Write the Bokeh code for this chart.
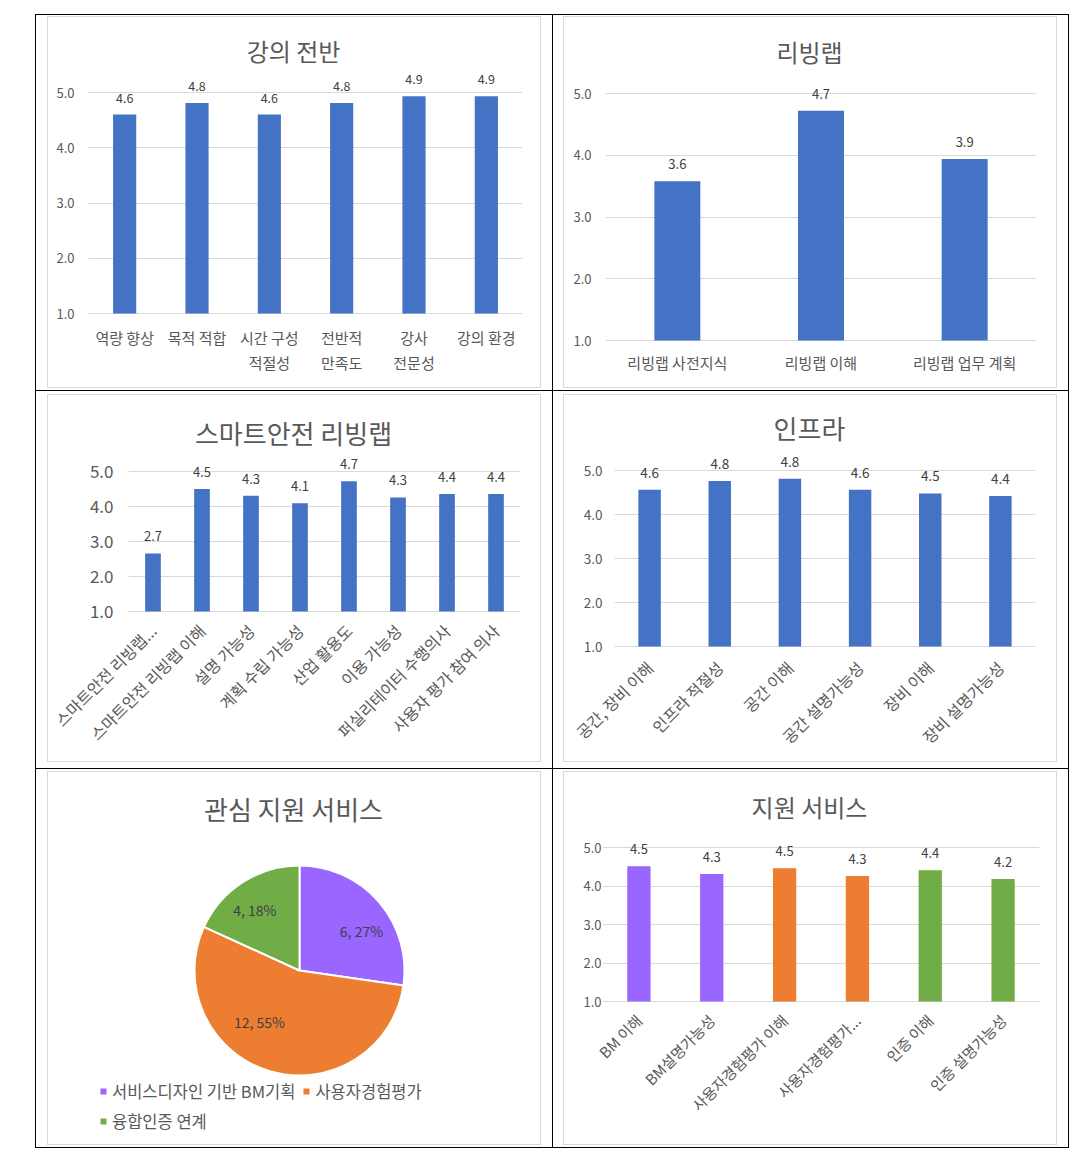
import math
from bokeh.plotting import figure
from bokeh.models import (ColumnDataSource, Range1d, FactorRange, FixedTicker,
                          PrintfTickFormatter, Label, Legend, LegendItem, Column, Row)
from bokeh.embed import file_html
from bokeh.resources import INLINE
from bokeh.core.properties import value

FONT = "Noto Sans CJK KR"
BLUE = "#4472C4"
PURPLE = "#9966FF"
ORANGE = "#ED7D31"
GREEN = "#70AD47"
AXIS_TXT = "#595959"
LABEL_TXT = "#404040"
GRID = "#d9d9d9"

# ---------------- data ----------------
lecture_title = "강의 전반"
lecture_cats = ["역량 향상", "목적 적합", "시간 구성\n적절성", "전반적\n만족도", "강사\n전문성", "강의 환경"]
lecture_vals = [4.6, 4.81, 4.6, 4.81, 4.93, 4.93]

livinglab_title = "리빙랩"
livinglab_cats = ["리빙랩 사전지식", "리빙랩 이해", "리빙랩 업무 계획"]
livinglab_vals = [3.58, 4.72, 3.94]

smart_title = "스마트안전 리빙랩"
smart_cats = ["스마트안전 리빙랩...", "스마트안전 리빙랩 이해", "설명 가능성", "계획 수립 가능성",
              "산업 활용도", "이용 가능성", "퍼실리테이터 수행의사", "사용자 평가 참여 의사"]
smart_vals = [2.66, 4.5, 4.31, 4.09, 4.72, 4.26, 4.36, 4.36]

infra_title = "인프라"
infra_cats = ["공간, 장비 이해", "인프라 적절성", "공간 이해", "공간 설명가능성", "장비 이해", "장비 설명가능성"]
infra_vals = [4.56, 4.76, 4.81, 4.56, 4.48, 4.42]

interest_title = "관심 지원 서비스"
interest_cats = ["서비스디자인 기반 BM기획", "사용자경험평가", "융합인증 연계"]
interest_counts = [6, 12, 4]
interest_colors = [PURPLE, ORANGE, GREEN]

support_title = "지원 서비스"
support_cats = ["BM 이해", "BM설명가능성", "사용자경험평가 이해", "사용자경험평가...", "인증 이해", "인증 설명가능성"]
support_vals = [4.51, 4.31, 4.46, 4.26, 4.41, 4.18]
support_group = [0, 0, 1, 1, 2, 2]

scale_ticks = [1, 2, 3, 4, 5]

# style: pixel nudges of the pie data labels (Excel "best fit" placement)
pie_label_nudge = [(8, -7), (-20, 17), (-6, 0)]

W = 492


def add_title(p, text, y, size):
    p.add_layout(Label(x=245, y=y, x_units="canvas", y_units="canvas", text=text,
                       text_align="center", text_baseline="middle",
                       text_font=FONT, text_font_size=f"{size}px", text_color=AXIS_TXT))


def bar_chart(title, cats, vals, colors, H, left, right, g5, g1, title_y, title_size,
              ytick_size, xtick_size, dlabel_size, orient, xstandoff, ystandoff):
    unit = (g1 - g5) / 4.0
    ymax = 5 + g5 / unit
    ymin = 1 - 1.0 / unit
    p = figure(width=W, height=H, x_range=FactorRange(factors=cats), y_range=Range1d(ymin, ymax),
               output_backend="svg", toolbar_location=None,
               min_border_left=left, min_border_right=right, min_border_top=0,
               min_border_bottom=H - g1 - 1)
    p.outline_line_color = None
    p.background_fill_color = "white"
    p.border_fill_color = "white"
    src = ColumnDataSource(dict(cat=cats, val=vals, color=colors,
                                lab=[f"{v:.1f}" for v in vals]))
    p.vbar(x="cat", top="val", bottom=1, width=0.32, fill_color="color", line_color=None, source=src)
    p.text(x="cat", y="val", text="lab", y_offset=-17, text_align="center", text_baseline="middle",
           text_font=value(FONT), text_font_size=f"{dlabel_size}px", text_color=LABEL_TXT, source=src)
    p.yaxis.ticker = FixedTicker(ticks=scale_ticks)
    p.ygrid.ticker = FixedTicker(ticks=scale_ticks)
    p.yaxis.formatter = PrintfTickFormatter(format="%.1f")
    p.ygrid.grid_line_color = GRID
    p.ygrid.grid_line_width = 1
    p.xgrid.grid_line_color = None
    for ax in (p.xaxis[0], p.yaxis[0]):
        ax.axis_line_color = None
        ax.major_tick_line_color = None
        ax.minor_tick_line_color = None
        ax.major_tick_out = 0
        ax.major_tick_in = 0
        ax.major_label_text_color = AXIS_TXT
        ax.major_label_text_font = FONT
    p.yaxis.major_label_text_font_size = f"{ytick_size}px"
    p.xaxis.major_label_text_font_size = f"{xtick_size}px"
    p.yaxis.major_label_standoff = ystandoff
    p.xaxis.major_label_standoff = xstandoff
    if orient:
        p.xaxis.major_label_orientation = math.pi / 4
    add_title(p, title, title_y, title_size)
    return p


def pie_chart(H):
    cx, cy = 251, 198
    p = figure(width=W, height=H, x_range=Range1d(-cx, W - cx), y_range=Range1d(cy - H, cy),
               output_backend="svg", toolbar_location=None, x_axis_type=None, y_axis_type=None,
               min_border=0)
    p.outline_line_color = None
    p.grid.visible = False
    p.background_fill_color = "white"
    p.border_fill_color = "white"
    total = float(sum(interest_counts))
    starts, ends, lx, ly, labs, xo, yo = [], [], [], [], [], [], []
    cum = 0
    R = 105
    for i, c in enumerate(interest_counts):
        a0 = math.pi / 2 - 2 * math.pi * cum / total
        cum += c
        a1 = math.pi / 2 - 2 * math.pi * cum / total
        starts.append(a0)
        ends.append(a1)
        mid = (a0 + a1) / 2
        lx.append(0.68 * R * math.cos(mid))
        ly.append(0.68 * R * math.sin(mid))
        labs.append(f"{c}, {round(100 * c / total)}%")
        xo.append(pie_label_nudge[i][0])
        yo.append(-pie_label_nudge[i][1])
    src = ColumnDataSource(dict(start=starts, end=ends, color=interest_colors, lx=lx, ly=ly,
                                lab=labs, xo=xo, yo=yo, name=interest_cats))
    r = p.wedge(x=0, y=0, radius=R, start_angle="start", end_angle="end", direction="clock",
                fill_color="color", line_color="white", line_width=2, source=src)
    p.text(x="lx", y="ly", text="lab", x_offset="xo", y_offset="yo",
           text_align="center", text_baseline="middle",
           text_font=value(FONT), text_font_size="14px", text_color=LABEL_TXT, source=src)
    items = [LegendItem(label=interest_cats[i], renderers=[r], index=i) for i in range(len(interest_cats))]
    legend = Legend(items=items, location=(50, 11), orientation="horizontal", ncols=2,
                    glyph_width=10, glyph_height=10, label_standoff=4, spacing=6,
                    padding=0, margin=0, label_height=19,
                    label_text_font=FONT, label_text_font_size="16.5px", label_text_color=AXIS_TXT,
                    border_line_color=None, background_fill_alpha=0)
    p.add_layout(legend)
    add_title(p, interest_title, 36, 26)
    return p


p1 = bar_chart(lecture_title, lecture_cats, lecture_vals, [BLUE] * len(lecture_vals), 370,
               40, 18, 75, 296, 33, 24, 13, 15, 12.5, False, 12, 14)
p2 = bar_chart(livinglab_title, livinglab_cats, livinglab_vals, [BLUE] * len(livinglab_vals), 370,
               41, 20, 76, 323, 34, 24, 13, 15, 13, False, 10, 14)
p3 = bar_chart(smart_title, smart_cats, smart_vals, [BLUE] * len(smart_vals), 366,
               80, 20, 76, 216, 37, 26, 17, 16, 13, True, 15, 15)
p4 = bar_chart(infra_title, infra_cats, infra_vals, [BLUE] * len(infra_vals), 366,
               50, 21, 75, 251, 32, 26, 13.5, 16, 13.5, True, 17, 12)
p5 = pie_chart(372)
p6 = bar_chart(support_title, support_cats, support_vals,
               [interest_colors[g] for g in support_group], 372,
               38, 17, 75, 229, 34, 24, 13, 15, 13, True, 15, 1)


def cell(fig, pt, pl, pr, pb, first_row, first_col):
    inner = Column(children=[fig], styles={"border": "1px solid #d9d9d9"})
    st = {"padding": f"{pt}px {pr}px {pb}px {pl}px",
          "border-right": "1px solid #000", "border-bottom": "1px solid #000"}
    if first_col:
        st["border-left"] = "1px solid #000"
    if first_row:
        st["border-top"] = "1px solid #000"
    return Column(children=[inner], styles=st)


row1 = Row(children=[cell(p1, 1, 11, 11, 2, True, True), cell(p2, 1, 10, 11, 2, True, False)])
row2 = Row(children=[cell(p3, 3, 11, 11, 6, False, True), cell(p4, 3, 10, 11, 6, False, False)])
row3 = Row(children=[cell(p5, 2, 11, 11, 2, False, True), cell(p6, 2, 10, 11, 2, False, False)])
root = Column(children=[row1, row2, row3])
root.margin = (14, 0, 0, 35)

html = file_html(root, INLINE, title="chart")
html = html.replace("<head>", "<head><style>html,body{margin:0;padding:0;}</style>", 1)
open("out.html", "w").write(html)
